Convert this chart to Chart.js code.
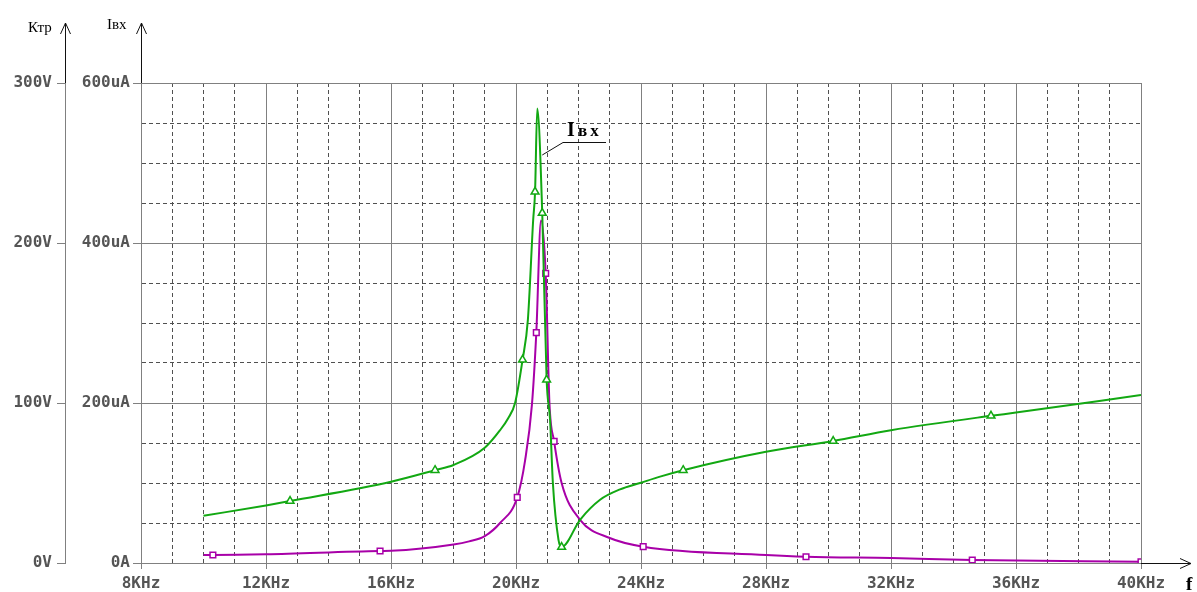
<!DOCTYPE html>
<html>
<head>
<meta charset="utf-8">
<title>Ктр, Iвх (f)</title>
<script src="https://cdn.jsdelivr.net/npm/chart.js@4.4.0/dist/chart.umd.min.js"></script>
<style>
  html, body { margin: 0; padding: 0; background: #fff; }
  canvas { display: block; }
</style>
</head>
<body>
<canvas id="chart" width="1197" height="592"></canvas>
<script>
// Input current Iвх, uA, against frequency, kHz
const iinFreq = [10.0, 12.0, 12.77, 16.0, 17.41, 18.0, 19.0, 19.49, 19.75, 19.97, 20.21, 20.38, 20.55, 20.61, 20.68,
                 20.84, 20.98, 21.09, 21.18, 21.36, 21.46, 22.05, 22.69, 23.33, 23.97, 24.61, 25.35, 28.0,
                 30.15, 32.0, 35.2, 36.0, 40.0];
const iinUA = [59, 72, 77.5, 101.6, 116, 122.5, 144, 166, 181, 200, 254, 304, 429, 464, 568,
               437.5, 229, 179, 100, 29, 20, 54, 79, 92, 100, 108, 116, 139,
               152.5, 166, 184, 188, 210];
const iinMarks = [2, 4, 10, 13, 15, 16, 20, 26, 28, 30];

// Transfer ratio Ктр, V
const ktrFreq = [10.0, 10.3, 12.0, 15.65, 16.0, 18.0, 18.5, 19.0, 19.49, 20.04, 20.29, 20.51, 20.65, 20.8,
                 20.95, 21.07, 21.22, 21.46, 22.05, 23.0, 24.07, 28.0, 29.28, 32.0, 34.6, 40.0];
const ktrV = [5.0, 5.0, 5.4, 7.5, 7.6, 11.5, 13.5, 16.8, 25, 41, 64, 99, 144, 214,
              181, 100, 76, 50, 27, 15.6, 10.2, 5.0, 3.9, 3.1, 1.9, 0.8];
const ktrMarks = [1, 3, 9, 12, 14, 16, 20, 22, 24, 25];

// labelled ticks
const freqTicks = [8, 12, 16, 20, 24, 28, 32, 36, 40];
const currentTicks = [0, 200, 400, 600];
const ktrTicks = [0, 100, 200, 300];

const GREEN = '#12a812';
const PURPLE = '#a800a8';
const SOLID = '#808080';
const DASHED = '#505050';
const LABEL = '#555555';
const tickFont = { family: 'DejaVu Sans Mono', size: 16, weight: 'bold' };

const toPoints = (xs, ys) => xs.map((x, i) => ({ x: x, y: ys[i] }));
const markRadius = (marks, r) => c => marks.includes(c.dataIndex) ? r : 0;

const crisp = v => Math.round(v - 0.5) + 0.5;

// arrows, axis names and the curve callout
const axisDecor = {
  id: 'axisDecor',
  afterDraw(chart) {
    const { ctx, chartArea, scales } = chart;
    const top = 23;
    ctx.save();
    ctx.strokeStyle = '#111';
    ctx.lineWidth = 1;

    [scales.yK.right, scales.yI.right].forEach(x => {
      const px = crisp(x);
      ctx.beginPath();
      ctx.moveTo(px, chartArea.top);
      ctx.lineTo(px, top);
      ctx.moveTo(px - 5, top + 11);
      ctx.lineTo(px, top);
      ctx.lineTo(px + 5, top + 11);
      ctx.stroke();
    });

    const py = crisp(chartArea.bottom);
    ctx.beginPath();
    ctx.moveTo(chartArea.right, py);
    ctx.lineTo(1191, py);
    ctx.moveTo(1180, py - 5);
    ctx.lineTo(1191, py);
    ctx.lineTo(1180, py + 5);
    ctx.stroke();

    ctx.fillStyle = '#000';
    ctx.textBaseline = 'alphabetic';
    ctx.textAlign = 'left';
    ctx.font = '15px "Liberation Serif"';
    ctx.fillText('Ктр', 28, 32);
    ctx.fillText('Iвх', 107, 29);
    ctx.font = 'bold 19px "Liberation Serif"';
    ctx.fillText('f', 1186, 590);

    // callout for the Iвх curve near resonance
    const x0 = scales.x.getPixelForValue(20.84);
    const y0 = scales.yI.getPixelForValue(510);
    ctx.beginPath();
    ctx.moveTo(x0, y0);
    ctx.lineTo(563, 142.5);
    ctx.lineTo(606, 142.5);
    ctx.stroke();
    ctx.letterSpacing = '3px';
    ctx.font = 'bold 20px "Liberation Serif"';
    ctx.fillText('I', 567, 136);
    ctx.font = 'bold 17px "Liberation Serif"';
    ctx.fillText('вх', 578, 136);
    ctx.restore();
  }
};

new Chart(document.getElementById('chart'), {
  type: 'scatter',
  data: {
    datasets: [
      {
        label: 'Iвх',
        data: toPoints(iinFreq, iinUA),
        yAxisID: 'yI',
        showLine: true,
        borderColor: GREEN,
        borderWidth: 2,
        cubicInterpolationMode: 'monotone',
        pointStyle: 'triangle',
        pointRadius: markRadius(iinMarks, 4.5),
        pointBackgroundColor: '#fff',
        pointBorderColor: GREEN,
        pointBorderWidth: 1.5
      },
      {
        label: 'Ктр',
        data: toPoints(ktrFreq, ktrV),
        yAxisID: 'yK',
        showLine: true,
        borderColor: PURPLE,
        borderWidth: 2,
        cubicInterpolationMode: 'monotone',
        pointStyle: 'rect',
        pointRadius: markRadius(ktrMarks, 4),
        pointBackgroundColor: '#fff',
        pointBorderColor: PURPLE,
        pointBorderWidth: 1.5
      }
    ]
  },
  options: {
    responsive: false,
    animation: false,
    layout: { padding: { top: 83, right: 56, left: 0, bottom: 0 } },
    plugins: {
      legend: { display: false },
      tooltip: { enabled: false }
    },
    scales: {
      x: {
        type: 'linear',
        min: 8,
        max: 40,
        afterFit: s => { s.height = 29; },
        ticks: {
          stepSize: 1,
          autoSkip: false,
          maxRotation: 0,
          padding: 5,
          color: LABEL,
          font: tickFont,
          callback: v => freqTicks.includes(v) ? v + 'KHz' : ''
        },
        grid: {
          color: c => freqTicks.includes(c.tick.value) ? SOLID : DASHED,
          tickColor: c => freqTicks.includes(c.tick.value) ? SOLID : 'rgba(0,0,0,0)',
          tickLength: 6,
          lineWidth: 1
        },
        border: {
          color: SOLID,
          dash: c => (c.tick && !freqTicks.includes(c.tick.value)) ? [4, 3] : []
        }
      },
      yI: {
        type: 'linear',
        position: 'left',
        weight: 0,
        min: 0,
        max: 600,
        afterFit: s => { s.width = 76; },
        ticks: {
          stepSize: 50,
          autoSkip: false,
          padding: 3,
          color: LABEL,
          font: tickFont,
          callback: v => currentTicks.includes(v) ? (v === 0 ? '0A' : v + 'uA') : ''
        },
        grid: {
          color: c => currentTicks.includes(c.tick.value) ? SOLID : DASHED,
          tickColor: c => currentTicks.includes(c.tick.value) ? SOLID : 'rgba(0,0,0,0)',
          tickLength: 8,
          lineWidth: 1
        },
        border: {
          color: SOLID,
          dash: c => (c.tick && !currentTicks.includes(c.tick.value)) ? [4, 3] : []
        }
      },
      yK: {
        type: 'linear',
        position: 'left',
        weight: 1,
        min: 0,
        max: 300,
        afterFit: s => { s.width = 65; },
        ticks: {
          stepSize: 100,
          autoSkip: false,
          padding: 5,
          color: LABEL,
          font: tickFont,
          callback: v => ktrTicks.includes(v) ? v + 'V' : ''
        },
        grid: {
          drawOnChartArea: false,
          color: SOLID,
          tickColor: SOLID,
          tickLength: 8
        },
        border: { color: SOLID }
      }
    }
  },
  plugins: [axisDecor]
});
</script>
</body>
</html>
